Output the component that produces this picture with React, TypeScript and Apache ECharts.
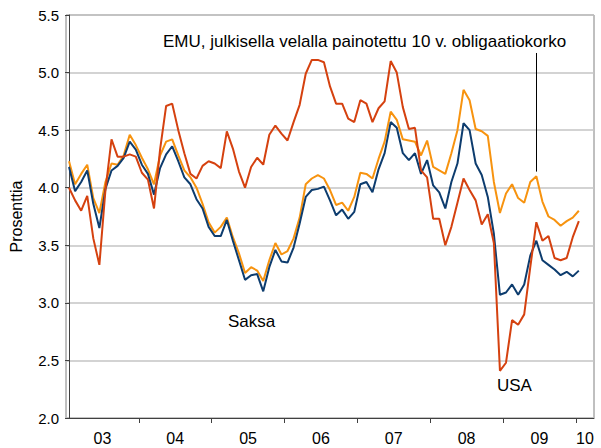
import React, { useEffect, useRef } from 'react';
import * as echarts from 'echarts';

// Monthly values, Jan 2003 (index 0) ... Jan 2010 (index 84)
const usa = [
  4.00, 3.89, 3.80, 3.93, 3.56, 3.33, 3.98, 4.42, 4.27, 4.27, 4.29, 4.27,
  4.13, 4.07, 3.82, 4.33, 4.71, 4.73, 4.50, 4.30, 4.12, 4.08, 4.19, 4.23,
  4.21, 4.17, 4.49, 4.34, 4.14, 4.00, 4.18, 4.26, 4.20, 4.46, 4.54, 4.47,
  4.41, 4.57, 4.72, 4.99, 5.11, 5.11, 5.09, 4.88, 4.73, 4.73, 4.60, 4.57,
  4.76, 4.73, 4.57, 4.69, 4.75, 5.10, 5.00, 4.70, 4.51, 4.52, 4.15, 4.09,
  3.73, 3.73, 3.50, 3.66, 3.87, 4.08, 3.98, 3.89, 3.68, 3.77, 3.52, 2.41,
  2.48, 2.85, 2.81, 2.90, 3.31, 3.70, 3.54, 3.58, 3.39, 3.37, 3.39, 3.57, 3.71,
];

const saksa = [
  4.18, 3.97, 4.05, 4.15, 3.86, 3.65, 3.99, 4.15, 4.19, 4.26, 4.40, 4.33,
  4.20, 4.12, 3.94, 4.17, 4.29, 4.36, 4.23, 4.09, 4.03, 3.90, 3.82, 3.66,
  3.58, 3.58, 3.72, 3.54, 3.37, 3.20, 3.24, 3.25, 3.10, 3.31, 3.46, 3.36,
  3.35, 3.48, 3.69, 3.92, 3.98, 3.99, 4.01, 3.89, 3.76, 3.81, 3.73, 3.79,
  4.03, 4.05, 3.96, 4.16, 4.30, 4.57, 4.52, 4.30, 4.24, 4.30, 4.12, 4.24,
  4.02, 3.96, 3.82, 4.05, 4.21, 4.56, 4.50, 4.21, 4.11, 3.92, 3.60, 3.07,
  3.09, 3.16, 3.07, 3.16, 3.41, 3.54, 3.37, 3.33, 3.29, 3.24, 3.27, 3.23, 3.28,
];

const emu = [
  4.23, 4.03, 4.12, 4.20, 3.91, 3.78, 4.05, 4.21, 4.20, 4.28, 4.46, 4.37,
  4.26, 4.16, 4.03, 4.28, 4.40, 4.42, 4.28, 4.15, 4.09, 4.00, 3.86, 3.70,
  3.61, 3.66, 3.74, 3.57, 3.43, 3.26, 3.31, 3.28, 3.19, 3.37, 3.52, 3.42,
  3.45, 3.56, 3.74, 4.03, 4.08, 4.11, 4.08, 3.98, 3.85, 3.87, 3.80, 3.92,
  4.13, 4.12, 4.08, 4.25, 4.40, 4.66, 4.59, 4.42, 4.41, 4.40, 4.28, 4.41,
  4.18, 4.15, 4.12, 4.30, 4.50, 4.85, 4.76, 4.51, 4.49, 4.45, 4.05, 3.78,
  3.95, 4.03, 3.91, 3.87, 4.05, 4.10, 3.88, 3.75, 3.72, 3.67, 3.71, 3.74, 3.80,
];

const yearLabels = ['03', '04', '05', '06', '07', '08', '09', '10'];
const yearLabelPos = [5.5, 17.5, 29.5, 41.5, 53.5, 65.5, 77.5, 85];
const yearTickPos = [11.5, 23.5, 35.5, 47.5, 59.5, 71.5, 83.5];

const annotationIndex = 77; // EMU pointer (Jun 2009)
const annotationTop = 5.17;

const FONT = '"Liberation Sans", Arial, sans-serif';

export default function App() {
  const ref = useRef<HTMLDivElement>(null);
  useEffect(() => {
    const chart = echarts.init(ref.current!, null, { renderer: 'svg' });
    const toPts = (arr: number[]) => arr.map((v, i) => [i, v]);
    chart.setOption({
      animation: false,
      textStyle: { fontFamily: FONT },
      grid: {
        left: 65, right: 7, top: 15, bottom: 30,
        show: true, borderColor: '#808080', borderWidth: 1,
      },
      xAxis: {
        type: 'value',
        min: -0.5,
        max: 86.5,
        axisLine: { lineStyle: { color: '#404040', width: 1 } },
        axisTick: { show: true, customValues: yearTickPos, length: 5, lineStyle: { color: '#404040' } },
        axisLabel: {
          customValues: yearLabelPos,
          formatter: (v: number) => {
            const k = yearLabelPos.findIndex((p) => Math.abs(p - v) < 1e-6);
            return k >= 0 ? yearLabels[k] : '';
          },
          color: '#000',
          fontSize: 16,
          margin: 12,
          fontFamily: FONT,
        },
        splitLine: { show: false },
      },
      yAxis: {
        type: 'value',
        min: 2,
        max: 5.5,
        interval: 0.5,
        name: 'Prosenttia',
        nameLocation: 'middle',
        nameGap: 42,
        nameTextStyle: { fontSize: 16, color: '#000', fontFamily: FONT },
        axisLine: { show: true, lineStyle: { color: '#404040', width: 1 } },
        axisTick: { show: true, length: 4, lineStyle: { color: '#404040' } },
        axisLabel: {
          formatter: (v: number) => v.toFixed(1),
          fontSize: 15,
          color: '#000',
          margin: 7,
          fontFamily: FONT,
        },
        splitLine: { lineStyle: { color: '#C4C4C4', width: 1.5 } },
      },
      series: [
        {
          name: 'EMU',
          type: 'line',
          data: toPts(emu),
          showSymbol: false,
          lineStyle: { color: '#F7930F', width: 2 },
          itemStyle: { color: '#F7930F' },
          markLine: {
            silent: true,
            symbol: 'none',
            label: { show: false },
            lineStyle: { color: '#000', width: 1, type: 'solid' },
            data: [[
              { coord: [annotationIndex, emu[annotationIndex] + 0.04] },
              { coord: [annotationIndex, annotationTop] },
            ]],
          },
        },
        {
          name: 'Saksa',
          type: 'line',
          data: toPts(saksa),
          showSymbol: false,
          lineStyle: { color: '#0D3C6E', width: 2 },
          itemStyle: { color: '#0D3C6E' },
        },
        {
          name: 'USA',
          type: 'line',
          data: toPts(usa),
          showSymbol: false,
          lineStyle: { color: '#D5410F', width: 2 },
          itemStyle: { color: '#D5410F' },
        },
      ],
      graphic: [
        {
          type: 'text', left: 163, top: 33,
          style: { text: 'EMU, julkisella velalla painotettu 10 v. obligaatiokorko', fontSize: 17, fill: '#000', fontFamily: FONT },
        },
        {
          type: 'text', left: 228, top: 313,
          style: { text: 'Saksa', fontSize: 17, fill: '#000', fontFamily: FONT },
        },
        {
          type: 'text', left: 497, top: 377,
          style: { text: 'USA', fontSize: 17, fill: '#000', fontFamily: FONT },
        },
      ],
    });
    return () => chart.dispose();
  }, []);
  return <div ref={ref} style={{ position: 'absolute', left: 0, top: 0, width: 601, height: 448 }} />;
}
